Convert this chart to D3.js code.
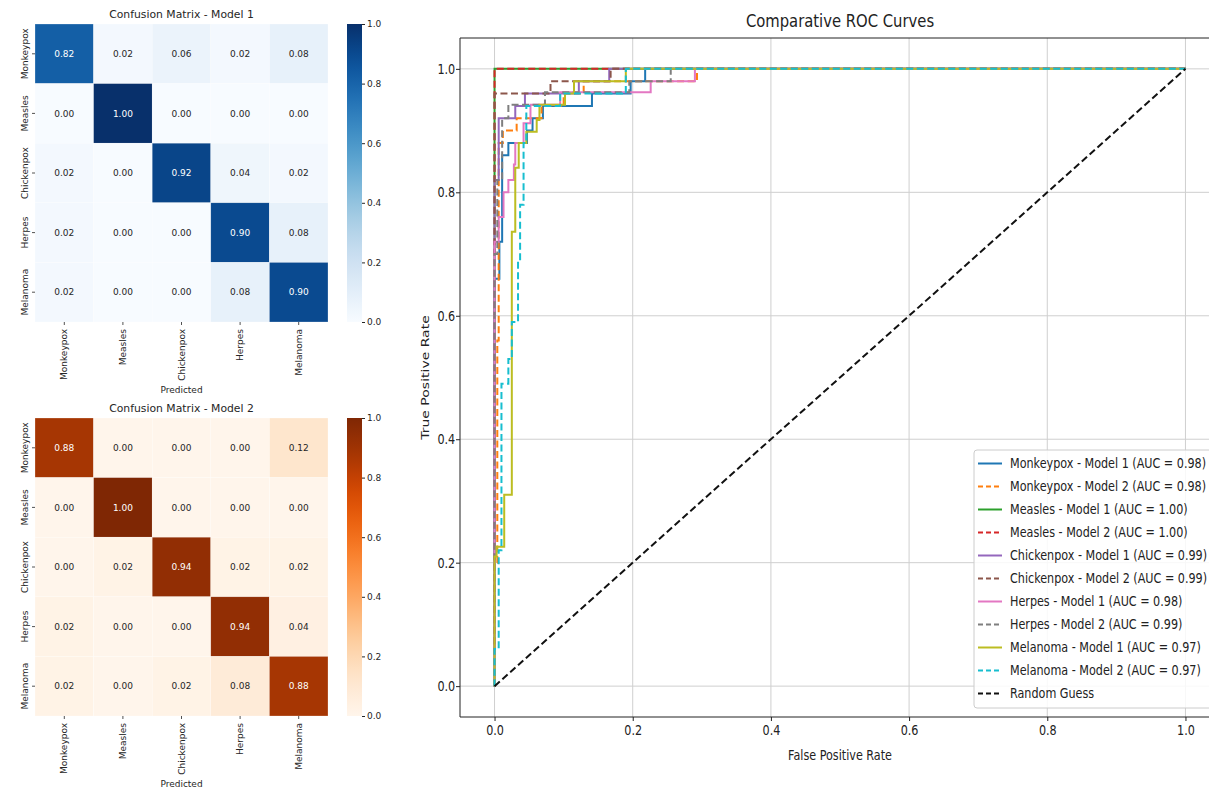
<!DOCTYPE html>
<html>
<head>
<meta charset="utf-8">
<script src="https://cdn.jsdelivr.net/npm/d3@7"></script>
<style>
  body { margin: 0; background: #fff; }
  svg { display: block; font-family: "DejaVu Sans", sans-serif; }
</style>
</head>
<body>
<div id="chart"></div>
<script>
// ---------------- data ----------------
const classes = ["Monkeypox", "Measles", "Chickenpox", "Herpes", "Melanoma"];

const cmModel1 = [
  [0.82, 0.02, 0.06, 0.02, 0.08],
  [0.00, 1.00, 0.00, 0.00, 0.00],
  [0.02, 0.00, 0.92, 0.04, 0.02],
  [0.02, 0.00, 0.00, 0.90, 0.08],
  [0.02, 0.00, 0.00, 0.08, 0.90]
];
const cmModel2 = [
  [0.88, 0.00, 0.00, 0.00, 0.12],
  [0.00, 1.00, 0.00, 0.00, 0.00],
  [0.00, 0.02, 0.94, 0.02, 0.02],
  [0.02, 0.00, 0.00, 0.94, 0.04],
  [0.02, 0.00, 0.02, 0.08, 0.88]
];
const colorbarTicks = [0, 0.2, 0.4, 0.6, 0.8, 1.0];
const rocTicks = [0, 0.2, 0.4, 0.6, 0.8, 1.0];

const aucModel1 = [0.98, 1.00, 0.99, 0.98, 0.97];
const aucModel2 = [0.98, 1.00, 0.99, 0.99, 0.97];

// roc points [fpr, tpr]
const rocMonkeypox1 = [[0,0],[0,0.66],[0.007,0.66],[0.007,0.72],[0.011,0.72],[0.011,0.86],[0.02,0.86],[0.02,0.88],[0.047,0.88],[0.047,0.90],[0.055,0.90],[0.055,0.92],[0.07,0.92],[0.07,0.94],[0.141,0.94],[0.141,0.96],[0.197,0.96],[0.197,0.98],[0.218,0.98],[0.218,1],[1,1]];
const rocMonkeypox2 = [[0,0],[0,0.2],[0.004,0.2],[0.004,0.56],[0.006,0.56],[0.006,0.88],[0.012,0.88],[0.012,0.90],[0.032,0.90],[0.032,0.92],[0.068,0.92],[0.068,0.94],[0.10,0.94],[0.10,0.96],[0.129,0.96],[0.129,0.98],[0.293,0.98],[0.293,1],[1,1]];
const rocMeasles1 = [[0,0],[0,1],[1,1]];
const rocMeasles2 = [[0,0],[0,1],[1,1]];
const rocChickenpox1 = [[0,0],[0,0.82],[0.006,0.82],[0.006,0.92],[0.03,0.92],[0.03,0.94],[0.044,0.94],[0.044,0.96],[0.122,0.96],[0.122,0.98],[0.166,0.98],[0.166,1],[1,1]];
const rocChickenpox2 = [[0,0],[0,0.96],[0.081,0.96],[0.081,0.98],[0.168,0.98],[0.168,1],[1,1]];
const rocHerpes1 = [[0,0],[0,0.72],[0.006,0.72],[0.006,0.76],[0.013,0.76],[0.013,0.80],[0.02,0.80],[0.02,0.82],[0.028,0.82],[0.028,0.845],[0.03,0.845],[0.03,0.88],[0.042,0.88],[0.042,0.912],[0.052,0.912],[0.052,0.942],[0.095,0.942],[0.095,0.962],[0.226,0.962],[0.226,0.98],[0.29,0.98],[0.29,1],[1,1]];
const rocHerpes2 = [[0,0],[0,0.70],[0.004,0.70],[0.004,0.82],[0.011,0.82],[0.011,0.92],[0.02,0.92],[0.02,0.942],[0.073,0.942],[0.073,0.962],[0.195,0.962],[0.195,0.98],[0.255,0.98],[0.255,1],[1,1]];
const rocMelanoma1 = [[0,0],[0,0.21],[0.003,0.21],[0.003,0.226],[0.014,0.226],[0.014,0.31],[0.025,0.31],[0.025,0.736],[0.03,0.736],[0.03,0.84],[0.035,0.84],[0.035,0.88],[0.046,0.88],[0.046,0.898],[0.061,0.898],[0.061,0.917],[0.065,0.917],[0.065,0.942],[0.102,0.942],[0.102,0.96],[0.115,0.96],[0.115,0.98],[0.19,0.98],[0.19,1],[1,1]];
const rocMelanoma2 = [[0,0],[0,0.06],[0.006,0.06],[0.006,0.22],[0.01,0.22],[0.01,0.49],[0.02,0.49],[0.02,0.53],[0.025,0.53],[0.025,0.59],[0.034,0.59],[0.034,0.69],[0.037,0.69],[0.037,0.78],[0.042,0.78],[0.042,0.88],[0.046,0.88],[0.046,0.94],[0.095,0.94],[0.095,0.96],[0.19,0.96],[0.19,1],[1,1]];
const rocRandom = [[0,0],[1,1]];

const model1Curves = [rocMonkeypox1, rocMeasles1, rocChickenpox1, rocHerpes1, rocMelanoma1];
const model2Curves = [rocMonkeypox2, rocMeasles2, rocChickenpox2, rocHerpes2, rocMelanoma2];
const curveColors = ["#1f77b4", "#ff7f0e", "#2ca02c", "#d62728", "#9467bd", "#8c564b", "#e377c2", "#7f7f7f", "#bcbd22", "#17becf"];

// ---------------- svg ----------------
const W = 1209, H = 791;
const svg = d3.select("#chart").append("svg")
  .attr("width", W).attr("height", H)
  .attr("viewBox", [0, 0, W, H]);

const defs = svg.append("defs");

// -------------------------------------------------------------- //
// ------------------------ heatmaps ---------------------------- //
// -------------------------------------------------------------- //
function drawHeatmap(matrix, title, interp, top, gradId) {
  const left = 35, right = 328, bottom = top + 298;
  const x = d3.scaleBand().domain(classes).range([left, right]);
  const y = d3.scaleBand().domain(classes).range([top, bottom]);
  const color = d3.scaleSequential(interp).domain([0, 1]);
  const g = svg.append("g").attr("font-size", 9).attr("fill", "#262626");

  const cells = [];
  matrix.forEach((row, i) => row.forEach((v, j) => cells.push({r: classes[i], c: classes[j], v})));

  g.selectAll("rect.cell").data(cells).join("rect")
    .attr("class", "cell")
    .attr("x", d => x(d.c)).attr("y", d => y(d.r))
    .attr("width", x.bandwidth()).attr("height", y.bandwidth())
    .attr("fill", d => color(d.v))
    .attr("stroke", "#ffffff").attr("stroke-opacity", 0.5).attr("stroke-width", 0.5);

  g.selectAll("text.annot").data(cells).join("text")
    .attr("class", "annot")
    .attr("x", d => x(d.c) + x.bandwidth() / 2)
    .attr("y", d => y(d.r) + y.bandwidth() / 2)
    .attr("dy", "0.35em")
    .attr("text-anchor", "middle")
    .attr("fill", d => d.v > 0.5 ? "#ffffff" : "#262626")
    .text(d => d.v.toFixed(2));

  // title
  g.append("text")
    .attr("x", (left + right) / 2).attr("y", top - 6)
    .attr("text-anchor", "middle").attr("font-size", 10.8)
    .text(title);

  // ticks
  classes.forEach(c => {
    const yc = y(c) + y.bandwidth() / 2;
    g.append("line").attr("x1", left - 3).attr("x2", left).attr("y1", yc).attr("y2", yc)
      .attr("stroke", "#262626").attr("stroke-width", 0.8);
    g.append("text")
      .attr("transform", `translate(${left - 7},${yc}) rotate(-90)`)
      .attr("text-anchor", "middle")
      .text(c);
    const xc = x(c) + x.bandwidth() / 2;
    g.append("line").attr("x1", xc).attr("x2", xc).attr("y1", bottom).attr("y2", bottom + 3)
      .attr("stroke", "#262626").attr("stroke-width", 0.8);
    g.append("text")
      .attr("transform", `translate(${xc + 3},${bottom + 7}) rotate(-90)`)
      .attr("text-anchor", "end")
      .text(c);
  });

  g.append("text")
    .attr("x", (left + right) / 2).attr("y", bottom + 71)
    .attr("text-anchor", "middle")
    .text("Predicted");

  // colorbar
  const grad = defs.append("linearGradient").attr("id", gradId)
    .attr("x1", 0).attr("x2", 0).attr("y1", 1).attr("y2", 0);
  d3.range(0, 1.0001, 0.05).forEach(t => {
    grad.append("stop").attr("offset", t).attr("stop-color", color(t));
  });
  const cbLeft = 347, cbRight = 362;
  g.append("rect")
    .attr("x", cbLeft).attr("y", top).attr("width", cbRight - cbLeft).attr("height", bottom - top)
    .attr("fill", `url(#${gradId})`);
  const cy = d3.scaleLinear().domain([0, 1]).range([bottom, top]);
  g.append("g")
    .attr("transform", `translate(${cbRight},0)`)
    .call(d3.axisRight(cy).tickValues(colorbarTicks).tickFormat(d3.format(".1f")).tickSize(3).tickPadding(2))
    .call(a => a.select(".domain").remove())
    .call(a => a.selectAll("line").attr("stroke", "#262626"))
    .call(a => a.selectAll("text").attr("font-size", 9).attr("fill", "#262626").attr("font-family", "DejaVu Sans"));
}

drawHeatmap(cmModel1, "Confusion Matrix - Model 1", d3.interpolateBlues, 24, "gradBlues");
drawHeatmap(cmModel2, "Confusion Matrix - Model 2", d3.interpolateOranges, 418, "gradOranges");

// -------------------------------------------------------------- //
// ------------------------ ROC curves -------------------------- //
// -------------------------------------------------------------- //
const plot = {left: 460, right: 1220, top: 38, bottom: 717};
const sx = 0.8; // text in this panel is squeezed horizontally
const x = d3.scaleLinear().domain([-0.05, 1.05]).range([plot.left, plot.right]);
const y = d3.scaleLinear().domain([-0.05, 1.05]).range([plot.bottom, plot.top]);

const roc = svg.append("g").attr("font-size", 14).attr("fill", "#222");

// grid
roc.append("g").selectAll("line.vg").data(rocTicks).join("line")
  .attr("x1", d => x(d)).attr("x2", d => x(d))
  .attr("y1", plot.top).attr("y2", plot.bottom)
  .attr("stroke", "#cfcfcf").attr("stroke-width", 1);
roc.append("g").selectAll("line.hg").data(rocTicks).join("line")
  .attr("y1", d => y(d)).attr("y2", d => y(d))
  .attr("x1", plot.left).attr("x2", plot.right)
  .attr("stroke", "#cfcfcf").attr("stroke-width", 1);

defs.append("clipPath").attr("id", "plotClip").append("rect")
  .attr("x", plot.left).attr("y", plot.top)
  .attr("width", plot.right - plot.left).attr("height", plot.bottom - plot.top);

const series = [];
classes.forEach((c, i) => {
  series.push({name: `${c} - Model 1 (AUC = ${aucModel1[i].toFixed(2)})`, pts: model1Curves[i], color: curveColors[2 * i], dash: null});
  series.push({name: `${c} - Model 2 (AUC = ${aucModel2[i].toFixed(2)})`, pts: model2Curves[i], color: curveColors[2 * i + 1], dash: "7,3.5"});
});
series.push({name: "Random Guess", pts: rocRandom, color: "#111111", dash: "7,3.5"});

const line = d3.line().x(d => x(d[0])).y(d => y(d[1]));
roc.append("g").attr("clip-path", "url(#plotClip)")
  .selectAll("path").data(series).join("path")
  .attr("d", d => line(d.pts))
  .attr("fill", "none")
  .attr("stroke", d => d.color)
  .attr("stroke-width", 2)
  .attr("stroke-dasharray", d => d.dash);

// spines
roc.append("line").attr("x1", plot.left).attr("x2", plot.left).attr("y1", plot.top).attr("y2", plot.bottom).attr("stroke", "#222");
roc.append("line").attr("x1", plot.left).attr("x2", plot.right).attr("y1", plot.top).attr("y2", plot.top).attr("stroke", "#222");
roc.append("line").attr("x1", plot.left).attr("x2", plot.right).attr("y1", plot.bottom).attr("y2", plot.bottom).attr("stroke", "#222");

// axes
roc.append("g")
  .attr("transform", `translate(0,${plot.bottom})`)
  .call(d3.axisBottom(x).tickValues(rocTicks).tickFormat(d3.format(".1f")).tickSize(4).tickPadding(4))
  .call(a => a.select(".domain").remove())
  .call(a => a.selectAll("line").attr("stroke", "#222"))
  .call(a => a.selectAll("text").attr("font-size", 14).attr("fill", "#222")
    .attr("font-family", "DejaVu Sans").attr("transform", `scale(${sx},1)`));
roc.append("g")
  .attr("transform", `translate(${plot.left},0)`)
  .call(d3.axisLeft(y).tickValues(rocTicks).tickFormat(d3.format(".1f")).tickSize(4).tickPadding(2))
  .call(a => a.select(".domain").remove())
  .call(a => a.selectAll("line").attr("stroke", "#222"))
  .call(a => a.selectAll("text").attr("font-size", 14).attr("fill", "#222")
    .attr("font-family", "DejaVu Sans").attr("transform", `scale(${sx},1)`));

// labels
roc.append("text")
  .attr("transform", `translate(${(x(0) + x(1)) / 2},760) scale(${sx},1)`)
  .attr("text-anchor", "middle")
  .text("False Positive Rate");
roc.append("text")
  .attr("transform", `translate(429,${(plot.top + plot.bottom) / 2}) scale(${sx},1) rotate(-90)`)
  .attr("text-anchor", "middle")
  .text("True Positive Rate");
roc.append("text")
  .attr("transform", `translate(${(x(0) + x(1)) / 2},27) scale(${sx},1)`)
  .attr("text-anchor", "middle").attr("font-size", 18.5)
  .text("Comparative ROC Curves");

// legend
const lg = roc.append("g").attr("transform", "translate(974,450)");
lg.append("rect")
  .attr("width", 260).attr("height", 258).attr("rx", 3)
  .attr("fill", "#ffffff").attr("fill-opacity", 0.85)
  .attr("stroke", "#cccccc");
const items = lg.selectAll("g.item").data(series).join("g")
  .attr("class", "item")
  .attr("transform", (d, i) => `translate(0,${13.5 + i * 23})`);
items.append("line")
  .attr("x1", 4).attr("x2", 28)
  .attr("stroke", d => d.color).attr("stroke-width", 2)
  .attr("stroke-dasharray", d => d.dash ? "5,3" : null);
items.append("text")
  .attr("transform", `translate(36,0) scale(0.8,1)`)
  .attr("dy", "0.35em")
  .attr("font-size", 14)
  .text(d => d.name);
</script>
</body>
</html>
